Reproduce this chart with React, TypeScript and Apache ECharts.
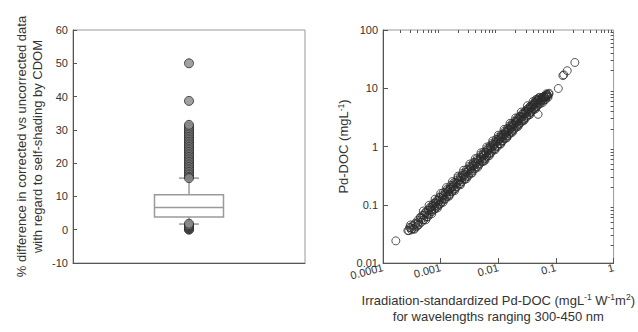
import React, { useEffect, useRef } from "react";
import * as echarts from "echarts";

// ---- Left panel: box plot of % difference ----
const boxStats = [1.7, 3.8, 6.7, 10.5, 15.5]; // whisker low, Q1, median, Q3, whisker high
const highOutliers = [
  50, 38.7, 16, 16.5, 17, 17.5, 18, 18.5, 19, 19.5, 20, 20.5, 21, 21.5, 22, 22.5, 23, 23.5, 24,
  24.5, 25, 25.5, 26, 26.5, 27, 27.5, 28, 28.5, 29, 29.5, 30, 30.5, 31, 31.5, 15.5,
];
const lowOutliers = [0, 0.2, 0.4, 0.6, 0.8, 1.0, 1.2, 1.4, 1.8];
const leftYTicks = [-10, 0, 10, 20, 30, 40, 50, 60];

// ---- Right panel: Pd-DOC vs irradiation-standardized Pd-DOC ----
const pdocPoints: [number, number][] = [
  [0.00027, 0.036], [0.00028, 0.036], [0.0003, 0.040], [0.00031, 0.037],
  [0.00033, 0.044], [0.00034, 0.039], [0.00036, 0.048], [0.00038, 0.042],
  [0.0004, 0.054], [0.00042, 0.046], [0.00044, 0.059], [0.00046, 0.050],
  [0.00049, 0.066], [0.00051, 0.055], [0.00054, 0.072], [0.00057, 0.062],
  [0.0006, 0.080], [0.00063, 0.068], [0.00066, 0.088], [0.0007, 0.076],
  [0.00073, 0.098], [0.00077, 0.083], [0.00081, 0.108], [0.00085, 0.092],
  [0.0009, 0.120], [0.00094, 0.101], [0.00099, 0.133], [0.00104, 0.112],
  [0.0011, 0.147], [0.00115, 0.124], [0.0012, 0.161], [0.00127, 0.137],
  [0.00133, 0.178], [0.0014, 0.151], [0.00147, 0.197], [0.00155, 0.167],
  [0.00163, 0.218], [0.0017, 0.184], [0.0018, 0.241], [0.0019, 0.205],
  [0.002, 0.268], [0.0021, 0.227], [0.0022, 0.295], [0.0023, 0.248],
  [0.0024, 0.322], [0.0026, 0.281], [0.0027, 0.362], [0.0028, 0.302],
  [0.003, 0.402], [0.0031, 0.335], [0.0033, 0.442], [0.0035, 0.378],
  [0.0036, 0.482], [0.0038, 0.41], [0.004, 0.536], [0.0042, 0.454],
  [0.0044, 0.59], [0.0047, 0.508], [0.0049, 0.657], [0.0052, 0.562],
  [0.0054, 0.724], [0.0057, 0.616], [0.006, 0.804], [0.0063, 0.68],
  [0.0066, 0.884], [0.007, 0.756], [0.0073, 0.978], [0.0077, 0.832],
  [0.0081, 1.09], [0.0085, 0.918], [0.009, 1.21], [0.0094, 1.02],
  [0.0099, 1.33], [0.0104, 1.12], [0.011, 1.47], [0.0115, 1.24],
  [0.012, 1.61], [0.0127, 1.37], [0.0133, 1.78], [0.014, 1.51],
  [0.0147, 1.97], [0.0155, 1.67], [0.0163, 2.18], [0.017, 1.84],
  [0.018, 2.41], [0.019, 2.05], [0.02, 2.68], [0.021, 2.27],
  [0.022, 2.95], [0.023, 2.48], [0.024, 3.22], [0.026, 2.81],
  [0.027, 3.62], [0.028, 3.02], [0.03, 4.02], [0.031, 3.35],
  [0.033, 4.42], [0.035, 3.78], [0.036, 4.82], [0.038, 4.1],
  [0.04, 5.36], [0.042, 4.54], [0.044, 5.9], [0.046, 4.97],
  [0.048, 6.43], [0.05, 5.4], [0.052, 6.97], [0.055, 5.94],
  [0.058, 7.0], [0.06, 6.2], [0.063, 7.3], [0.066, 6.6],
  [0.07, 7.8], [0.073, 7.0],
];
const pdocSpread: [number, number][] = [
  [0.0003, 0.045], [0.00035, 0.038], [0.0004, 0.044], [0.00045, 0.062], [0.0005, 0.055],
  [0.00055, 0.075], [0.0006, 0.062], [0.00065, 0.09], [0.0007, 0.08], [0.00075, 0.105],
  [0.0008, 0.085], [0.00085, 0.118], [0.0009, 0.095], [0.00095, 0.135], [0.001, 0.105],
  [0.0011, 0.16], [0.0012, 0.125], [0.0013, 0.185], [0.0014, 0.145], [0.0015, 0.215],
  [0.0016, 0.17], [0.0017, 0.24], [0.0018, 0.19], [0.002, 0.29], [0.0022, 0.23],
  [0.0024, 0.345], [0.0026, 0.27], [0.0028, 0.4], [0.003, 0.31], [0.0032, 0.46],
  [0.0034, 0.35], [0.0037, 0.53], [0.004, 0.42], [0.0043, 0.62], [0.0046, 0.48],
  [0.005, 0.72], [0.0053, 0.55], [0.0056, 0.8], [0.006, 0.63], [0.0065, 0.93],
  [0.0068, 0.7], [0.0072, 1.03], [0.0075, 0.78], [0.008, 1.15], [0.0086, 0.9],
  [0.0092, 1.32], [0.0097, 1.0], [0.0102, 1.45], [0.0108, 1.12], [0.0113, 1.6],
  [0.012, 1.25], [0.013, 1.85], [0.0137, 1.42], [0.0145, 2.05], [0.015, 1.55],
  [0.016, 2.28], [0.0168, 1.75], [0.0175, 2.48], [0.0185, 1.92], [0.0195, 2.75],
  [0.0205, 2.15], [0.0215, 3.05], [0.0225, 2.35], [0.0235, 3.3], [0.025, 2.6],
  [0.0265, 3.7], [0.0275, 2.85], [0.029, 4.05], [0.0305, 3.15], [0.032, 4.4],
  [0.034, 3.55], [0.0355, 4.85], [0.037, 3.9], [0.039, 5.2], [0.041, 4.3],
  [0.043, 5.6], [0.045, 4.7], [0.047, 6.1], [0.049, 5.1], [0.051, 6.4],
  [0.054, 5.5], [0.056, 6.8], [0.059, 5.7], [0.062, 7.1], [0.065, 6.3],
  [0.068, 7.5], [0.072, 7.3], [0.076, 8.2],
];
const pdocWide: [number, number][] = [
  [0.0005, 0.078], [0.00055, 0.055], [0.00063, 0.098], [0.0007, 0.07],
  [0.0008, 0.125], [0.00088, 0.088], [0.001, 0.156], [0.0011, 0.11],
  [0.00126, 0.197], [0.0014, 0.14], [0.0016, 0.25], [0.00175, 0.175],
  [0.002, 0.31], [0.0022, 0.22], [0.0025, 0.39], [0.0028, 0.28],
  [0.0032, 0.5], [0.0035, 0.35], [0.004, 0.62], [0.0044, 0.44],
  [0.005, 0.78], [0.0056, 0.56], [0.0063, 0.98], [0.007, 0.7],
  [0.008, 1.25], [0.0088, 0.88], [0.01, 1.56], [0.011, 1.1],
  [0.0126, 1.97], [0.014, 1.4], [0.016, 2.5], [0.0175, 1.75],
  [0.02, 3.1], [0.022, 2.2], [0.025, 3.9], [0.028, 2.8],
  [0.032, 5.0], [0.035, 3.5], [0.04, 5.9], [0.044, 4.4],
];
const pdocMid: [number, number][] = [
  [0.00029, 0.041], [0.00032, 0.039], [0.00037, 0.046], [0.00041, 0.05], [0.00047, 0.058],
  [0.00052, 0.066], [0.00058, 0.07], [0.00062, 0.08], [0.00068, 0.083], [0.00072, 0.092],
  [0.00079, 0.096], [0.00083, 0.104], [0.00092, 0.112], [0.00097, 0.121], [0.00107, 0.128],
  [0.00112, 0.142], [0.00123, 0.15], [0.0013, 0.165], [0.00137, 0.17], [0.00144, 0.185],
  [0.0015, 0.185], [0.00158, 0.2], [0.00165, 0.205], [0.00185, 0.23], [0.00195, 0.24],
  [0.00205, 0.255], [0.00215, 0.265], [0.00235, 0.29], [0.0025, 0.31], [0.00265, 0.33],
  [0.0029, 0.36], [0.0032, 0.4], [0.0034, 0.42], [0.0037, 0.46], [0.0039, 0.49],
  [0.0041, 0.51], [0.0045, 0.56], [0.0048, 0.6], [0.0051, 0.64], [0.0055, 0.69],
  [0.0058, 0.72], [0.0062, 0.78], [0.0067, 0.84], [0.0071, 0.89], [0.0075, 0.94],
  [0.0079, 0.99], [0.0083, 1.04], [0.0088, 1.1], [0.0096, 1.2], [0.0101, 1.26],
  [0.0107, 1.34], [0.0112, 1.4], [0.0118, 1.47], [0.0124, 1.55], [0.013, 1.62],
  [0.0136, 1.7], [0.0143, 1.79], [0.015, 1.88], [0.0158, 1.97], [0.0166, 2.07],
  [0.0175, 2.19], [0.0185, 2.31], [0.0195, 2.44], [0.0205, 2.56], [0.0215, 2.69],
  [0.0225, 2.81], [0.0238, 2.97], [0.025, 3.12], [0.026, 3.25], [0.0285, 3.56],
  [0.0295, 3.69], [0.0315, 3.94], [0.0325, 4.06], [0.0345, 4.31], [0.037, 4.62],
  [0.039, 4.87], [0.041, 5.12], [0.043, 5.37], [0.047, 5.6], [0.053, 6.1],
  [0.057, 6.4], [0.061, 6.8], [0.064, 7.0], [0.067, 7.2], [0.071, 7.5],
];
const pdocOutliers: [number, number][] = [
  [0.000167, 0.024], [0.0059, 0.58], [0.049, 3.57], [0.11, 9.9],
  [0.132, 16.5], [0.137, 17.0], [0.157, 20.0], [0.213, 27.7],
  [0.068, 8.0], [0.075, 7.9], [0.045, 6.4], [0.05, 6.8],
];
const xTickLabels = ["0.0001", "0.001", "0.01", "0.1", "1"];
const yTickLabels = ["0.01", "0.1", "1", "10", "100"];
const minorX = [
  0.0002, 0.0003, 0.0004, 0.0005, 0.0006, 0.0007, 0.0008, 0.0009,
  0.002, 0.003, 0.004, 0.005, 0.006, 0.007, 0.008, 0.009,
  0.02, 0.03, 0.04, 0.05, 0.06, 0.07, 0.08, 0.09,
  0.2, 0.3, 0.4, 0.5, 0.6, 0.7, 0.8, 0.9,
];
const minorY = [
  0.02, 0.03, 0.04, 0.05, 0.06, 0.07, 0.08, 0.09,
  0.2, 0.3, 0.4, 0.5, 0.6, 0.7, 0.8, 0.9,
  2, 3, 4, 5, 6, 7, 8, 9,
  20, 30, 40, 50, 60, 70, 80, 90,
];

const FONT = "Liberation Sans, Arial, sans-serif";
const TEXT = "#333";
const AXIS = "#555";

export default function App() {
  const ref = useRef<HTMLDivElement>(null);
  useEffect(() => {
    if (!ref.current) return;
    const chart = echarts.init(ref.current, null, { renderer: "svg" });
    const supRich = {
      sup: { fontSize: 8.5, fontFamily: FONT, color: TEXT, padding: [0, 0, 6, 0] },
    };
    const openCircle = { color: "rgba(255,255,255,0)", borderColor: "#2a2a2a", borderWidth: 1 };
    const option: any = {
      animation: false,
      backgroundColor: "#fff",
      textStyle: { fontFamily: FONT },
      grid: [
        { left: 73, top: 30, width: 232, height: 233, show: true, borderColor: "#999", borderWidth: 1 },
        { left: 383, top: 30, width: 232, height: 233, show: true, borderColor: "#999", borderWidth: 1 },
      ],
      xAxis: [
        {
          gridIndex: 0, type: "value", min: 0, max: 2,
          axisLine: { show: true, onZero: false, lineStyle: { color: AXIS } },
          axisTick: { show: false }, axisLabel: { show: false }, splitLine: { show: false },
        },
        {
          gridIndex: 1, type: "log", logBase: 10, min: 0.0001, max: 1,
          axisLine: { show: true, onZero: false, lineStyle: { color: AXIS } },
          axisTick: { inside: true, length: 5, lineStyle: { color: AXIS } },
          axisLabel: {
            rotate: 15, color: TEXT, fontSize: 11, fontFamily: FONT, margin: 4,
            formatter: (v: number) => xTickLabels[Math.round(Math.log10(v)) + 4],
          },
          splitLine: { show: false },
          name:
            "Irradiation-standardized Pd-DOC (mgL{sup|-1} W{sup|-1}m{sup|2})\nfor wavelengths ranging 300-450 nm",
          nameLocation: "middle",
          nameGap: 29,
          nameTextStyle: { fontSize: 13, color: TEXT, fontFamily: FONT, lineHeight: 16, rich: supRich },
        },
        {
          gridIndex: 1, type: "log", logBase: 10, min: 0.0001, max: 1,
          axisLine: { show: false, onZero: false },
          axisTick: { inside: true, length: 3, customValues: minorX, lineStyle: { color: AXIS } },
          axisLabel: { show: false }, splitLine: { show: false },
        },
      ],
      yAxis: [
        {
          gridIndex: 0, type: "value", min: -10, max: 60, interval: 10,
          axisLine: { show: true, onZero: false, lineStyle: { color: AXIS } },
          axisTick: { inside: true, length: 4, lineStyle: { color: AXIS } },
          axisLabel: { color: TEXT, fontSize: 11, fontFamily: FONT, margin: 5,
            formatter: (v: number) => (leftYTicks.includes(v) ? String(v) : "") },
          splitLine: { show: false },
          name: "% difference in corrected vs uncorrected data\nwith regard to self-shading by CDOM",
          nameLocation: "middle",
          nameGap: 28,
          nameTextStyle: { fontSize: 13, color: TEXT, fontFamily: FONT, lineHeight: 16 },
        },
        {
          gridIndex: 1, type: "log", logBase: 10, min: 0.01, max: 100,
          axisLine: { show: true, onZero: false, lineStyle: { color: AXIS } },
          axisTick: { inside: true, length: 5, lineStyle: { color: AXIS } },
          axisLabel: { color: TEXT, fontSize: 11, fontFamily: FONT, margin: 5,
            formatter: (v: number) => yTickLabels[Math.round(Math.log10(v)) + 2] },
          splitLine: { show: false },
          name: "Pd-DOC (mgL{sup|-1})",
          nameLocation: "middle",
          nameGap: 32,
          nameTextStyle: { fontSize: 13, color: TEXT, fontFamily: FONT, rich: supRich },
        },
        {
          gridIndex: 1, type: "log", logBase: 10, min: 0.01, max: 100,
          axisLine: { show: false, onZero: false },
          axisTick: { inside: true, length: 3, customValues: minorY, lineStyle: { color: AXIS } },
          axisLabel: { show: false }, splitLine: { show: false },
        },
      ],
      series: [
        {
          type: "custom",
          xAxisIndex: 0, yAxisIndex: 0,
          data: [[1, ...boxStats]],
          z: 2,
          renderItem: (params: any, api: any) => {
            const x = api.value(0);
            const lo = api.coord([x, api.value(1)]);
            const q1 = api.coord([x, api.value(2)]);
            const med = api.coord([x, api.value(3)]);
            const q3 = api.coord([x, api.value(4)]);
            const hi = api.coord([x, api.value(5)]);
            const cx = lo[0];
            const hw = 34.5;
            const cw = 10;
            const st = { stroke: "#9a9a9a", lineWidth: 1.5, fill: "none" };
            return {
              type: "group",
              children: [
                { type: "line", shape: { x1: cx, y1: hi[1], x2: cx, y2: q3[1] }, style: st },
                { type: "line", shape: { x1: cx, y1: q1[1], x2: cx, y2: lo[1] }, style: st },
                { type: "line", shape: { x1: cx - cw, y1: hi[1], x2: cx + cw, y2: hi[1] }, style: st },
                { type: "line", shape: { x1: cx - cw, y1: lo[1], x2: cx + cw, y2: lo[1] }, style: st },
                { type: "rect", shape: { x: cx - hw, y: q3[1], width: hw * 2, height: q1[1] - q3[1] },
                  style: { stroke: "#9a9a9a", lineWidth: 1.5, fill: "#fff" } },
                { type: "line", shape: { x1: cx - hw, y1: med[1], x2: cx + hw, y2: med[1] }, style: st },
              ],
            };
          },
        },
        {
          type: "scatter",
          xAxisIndex: 0, yAxisIndex: 0,
          z: 3,
          symbolSize: 9,
          itemStyle: { color: "#8a8a8a", borderColor: "#2a2a2a", borderWidth: 1 },
          data: [...highOutliers, ...lowOutliers].map((v) => [1, v]),
        },
        {
          type: "scatter",
          xAxisIndex: 1, yAxisIndex: 1,
          symbolSize: 8,
          itemStyle: openCircle,
          data: [...pdocWide, ...pdocSpread, ...pdocMid, ...pdocPoints, ...pdocOutliers],
        },
      ],
    };
    chart.setOption(option);
    return () => chart.dispose();
  }, []);
  return (
    <div
      ref={ref}
      style={{ position: "fixed", left: 0, top: 0, width: 638, height: 332, background: "#fff" }}
    />
  );
}
